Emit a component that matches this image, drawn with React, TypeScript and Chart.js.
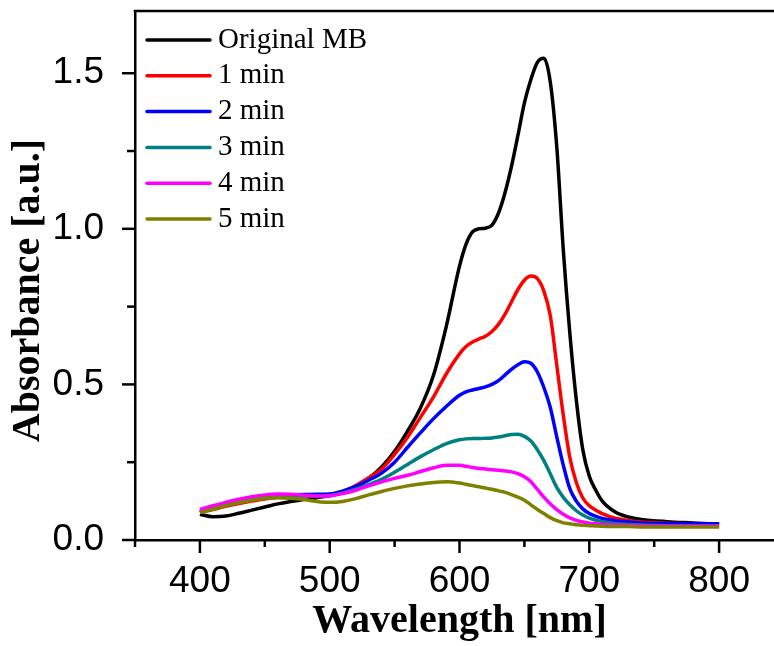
import { useEffect, useRef } from "react";
import { Chart, registerables } from "chart.js";

Chart.register(...registerables);

const WAVELENGTHS = [
  400, 410, 420, 430, 440, 450, 460, 470, 480, 490, 500, 510, 520, 530, 540, 550, 560, 570, 580, 590, 600,
  605, 610, 615, 620, 625, 630, 635, 640, 645, 650, 655, 660, 665, 670, 675, 680, 685, 690, 695, 700, 705, 710,
  720, 730, 740, 760, 780, 800,
];

const ORIGINAL_MB = [
  0.083, 0.075, 0.077, 0.086, 0.096, 0.106, 0.116, 0.124, 0.13, 0.136, 0.142, 0.152, 0.17, 0.198, 0.235, 0.285,
  0.35, 0.425, 0.53, 0.69, 0.88, 0.95, 0.99, 1.0, 1.002, 1.012, 1.05, 1.115, 1.2, 1.3, 1.405, 1.48, 1.535, 1.548,
  1.47, 1.26, 0.93, 0.665, 0.45, 0.29, 0.205, 0.16, 0.125, 0.09, 0.074, 0.066, 0.059, 0.055, 0.051,
];

const MIN_1 = [
  0.088, 0.098, 0.108, 0.117, 0.125, 0.132, 0.137, 0.14, 0.142, 0.144, 0.146, 0.156, 0.175, 0.2, 0.228, 0.275,
  0.33, 0.395, 0.46, 0.535, 0.598, 0.622, 0.636, 0.646, 0.655, 0.67, 0.693, 0.725, 0.765, 0.805, 0.835, 0.848,
  0.84, 0.8, 0.72, 0.56, 0.4, 0.265, 0.185, 0.135, 0.11, 0.096, 0.085, 0.07, 0.063, 0.058, 0.054, 0.052, 0.05,
];

const MIN_2 = [
  0.09, 0.102, 0.113, 0.122, 0.13, 0.136, 0.141, 0.144, 0.146, 0.147, 0.148, 0.157, 0.172, 0.192, 0.215, 0.25,
  0.298, 0.345, 0.39, 0.43, 0.465, 0.476, 0.482, 0.487, 0.492, 0.5, 0.512, 0.53, 0.548, 0.563, 0.573, 0.568,
  0.54, 0.49, 0.425, 0.33, 0.24, 0.165, 0.125, 0.1, 0.085, 0.076, 0.069, 0.062, 0.058, 0.055, 0.053, 0.052, 0.052,
];

const MIN_3 = [
  0.09, 0.102, 0.113, 0.123, 0.131, 0.137, 0.14, 0.141, 0.141, 0.141, 0.143, 0.151, 0.163, 0.178, 0.195, 0.218,
  0.243, 0.268, 0.29, 0.31, 0.322, 0.325, 0.326, 0.326, 0.327, 0.328, 0.331, 0.335, 0.339, 0.34, 0.333, 0.318,
  0.29, 0.255, 0.212, 0.168, 0.137, 0.113, 0.094, 0.08, 0.07, 0.064, 0.059, 0.053, 0.05, 0.048, 0.046, 0.045, 0.044,
];

const MIN_4 = [
  0.098, 0.11, 0.121, 0.131, 0.139, 0.145, 0.148, 0.147, 0.144, 0.141, 0.142, 0.149, 0.16, 0.174, 0.187, 0.198,
  0.208, 0.22, 0.232, 0.24, 0.24, 0.237, 0.233, 0.23, 0.228, 0.226, 0.224, 0.222, 0.219, 0.213, 0.203, 0.187,
  0.163, 0.138, 0.116, 0.098, 0.083, 0.071, 0.063, 0.058, 0.054, 0.052, 0.05, 0.048, 0.047, 0.046, 0.045, 0.045, 0.045,
];

const MIN_5 = [
  0.088, 0.099, 0.11, 0.12, 0.128, 0.134, 0.136, 0.134, 0.13, 0.124, 0.121, 0.124, 0.133, 0.145, 0.156, 0.166,
  0.174, 0.18, 0.185, 0.187, 0.183, 0.179, 0.175, 0.171, 0.167, 0.163, 0.158, 0.153, 0.146, 0.138, 0.128, 0.113,
  0.098, 0.085, 0.072, 0.062, 0.055, 0.052, 0.049, 0.047, 0.046, 0.045, 0.044, 0.043, 0.043, 0.042, 0.042, 0.042, 0.042,
];

const SERIES_LABELS = ["Original MB", "1 min", "2 min", "3 min", "4 min", "5 min"];
const SERIES_VALUES = [ORIGINAL_MB, MIN_1, MIN_2, MIN_3, MIN_4, MIN_5];
const SERIES_COLORS = ["#000000", "#ff0000", "#0000ff", "#008080", "#ff00ff", "#808000"];

const X_MAJOR_TICKS = [400, 500, 600, 700, 800];
const X_MINOR_TICKS = [350, 450, 550, 650, 750, 850];
const Y_MAJOR_TICKS = [0, 0.5, 1.0, 1.5];
const Y_MINOR_TICKS = [0.25, 0.75, 1.25];

const SANS = '"Liberation Sans", Arial, Helvetica, sans-serif';
const SERIF = '"Liberation Serif", "Times New Roman", Times, serif';

const frameAndTicksPlugin = {
  id: "frameAndTicks",
  afterDraw(chart: any) {
    const { ctx, chartArea } = chart;
    const xs = chart.scales.x;
    const ys = chart.scales.y;
    ctx.save();
    ctx.strokeStyle = "#000";
    ctx.lineWidth = 2.5;
    ctx.lineCap = "butt";
    ctx.beginPath();
    ctx.moveTo(chartArea.left - 1.25, chartArea.top);
    ctx.lineTo(chartArea.right, chartArea.top);
    ctx.stroke();
    ctx.beginPath();
    ctx.moveTo(chartArea.right, chartArea.top);
    ctx.lineTo(chartArea.right, chartArea.bottom);
    ctx.stroke();
    const drawX = (v: number, len: number) => {
      const px = xs.getPixelForValue(v);
      ctx.beginPath();
      ctx.moveTo(px, chartArea.bottom);
      ctx.lineTo(px, chartArea.bottom + len);
      ctx.stroke();
    };
    const drawY = (v: number, len: number) => {
      const py = ys.getPixelForValue(v);
      ctx.beginPath();
      ctx.moveTo(chartArea.left, py);
      ctx.lineTo(chartArea.left - len, py);
      ctx.stroke();
    };
    X_MAJOR_TICKS.forEach((v) => drawX(v, 13));
    X_MINOR_TICKS.forEach((v) => drawX(v, 7));
    Y_MAJOR_TICKS.forEach((v) => drawY(v, 13));
    Y_MINOR_TICKS.forEach((v) => drawY(v, 8));
    ctx.restore();
  },
};

const insideLegendPlugin = {
  id: "insideLegend",
  afterDraw(chart: any) {
    const { ctx, chartArea } = chart;
    ctx.save();
    ctx.font = `29px ${SERIF}`;
    ctx.textBaseline = "middle";
    ctx.textAlign = "left";
    chart.data.datasets.forEach((ds: any, i: number) => {
      const y = chartArea.top + 29 + i * 35.8;
      const x0 = chartArea.left + 12;
      ctx.strokeStyle = ds.borderColor;
      ctx.lineWidth = 3.5;
      ctx.lineCap = "round";
      ctx.beginPath();
      ctx.moveTo(x0, y);
      ctx.lineTo(x0 + 63, y);
      ctx.stroke();
      ctx.fillStyle = "#000";
      ctx.fillText(ds.label, x0 + 71, y);
    });
    ctx.restore();
  },
};

export default function App() {
  const canvasRef = useRef<HTMLCanvasElement | null>(null);

  useEffect(() => {
    const canvas = canvasRef.current;
    if (!canvas) return;
    const datasets = SERIES_LABELS.map((label, i) => ({
      label,
      data: WAVELENGTHS.map((x, j) => ({ x, y: SERIES_VALUES[i][j] })),
      borderColor: SERIES_COLORS[i],
      backgroundColor: SERIES_COLORS[i],
      borderWidth: 3.5,
      pointRadius: 0,
      fill: false,
      cubicInterpolationMode: "monotone" as const,
      order: SERIES_LABELS.length - 1 - i,
    }));

    const chart = new Chart(canvas, {
      type: "line",
      data: { datasets },
      options: {
        responsive: false,
        animation: false,
        devicePixelRatio: 1,
        layout: { padding: { top: 11, right: 2, left: 0, bottom: 0 } },
        plugins: {
          legend: { display: false },
          tooltip: { enabled: false },
        },
        scales: {
          x: {
            type: "linear",
            min: 350,
            max: 850,
            afterBuildTicks: (s: any) => {
              s.ticks = X_MAJOR_TICKS.map((value) => ({ value }));
            },
            afterFit: (s: any) => {
              s.height = 106;
              s.paddingLeft = 0;
              s.paddingRight = 0;
              s.paddingTop = 0;
              s.paddingBottom = 0;
            },
            grid: { display: false },
            border: { display: true, color: "#000", width: 2.5 },
            ticks: {
              color: "#000",
              font: { family: SANS, size: 37 },
              padding: 12,
              maxRotation: 0,
              autoSkip: false,
              callback: (v: any) => String(v),
            },
            title: {
              display: true,
              text: "Wavelength [nm]",
              color: "#000",
              font: { family: SERIF, size: 40, weight: "bold" },
              padding: { top: 0, bottom: 0 },
            },
          },
          y: {
            type: "linear",
            min: 0,
            max: 1.7,
            afterBuildTicks: (s: any) => {
              s.ticks = Y_MAJOR_TICKS.map((value) => ({ value }));
            },
            afterFit: (s: any) => {
              s.width = 135;
              s.paddingLeft = 0;
              s.paddingRight = 0;
              s.paddingTop = 0;
              s.paddingBottom = 0;
            },
            grid: { display: false },
            border: { display: true, color: "#000", width: 2.5 },
            ticks: {
              color: "#000",
              font: { family: SANS, size: 37 },
              padding: 23,
              callback: (v: any) => Number(v).toFixed(1),
            },
            title: {
              display: true,
              text: "Absorbance [a.u.]\u00a0\u00a0\u00a0",
              color: "#000",
              font: { family: SERIF, size: 40, weight: "bold" },
              padding: { top: 5, bottom: 0 },
            },
          },
        },
      },
      plugins: [frameAndTicksPlugin, insideLegendPlugin],
    });

    return () => chart.destroy();
  }, []);

  return (
    <div
      style={{
        position: "fixed",
        left: 0,
        top: 0,
        width: 774,
        height: 646,
        overflow: "hidden",
        background: "#fff",
      }}
    >
      <canvas ref={canvasRef} width={786} height={646} style={{ display: "block" }} />
    </div>
  );
}
